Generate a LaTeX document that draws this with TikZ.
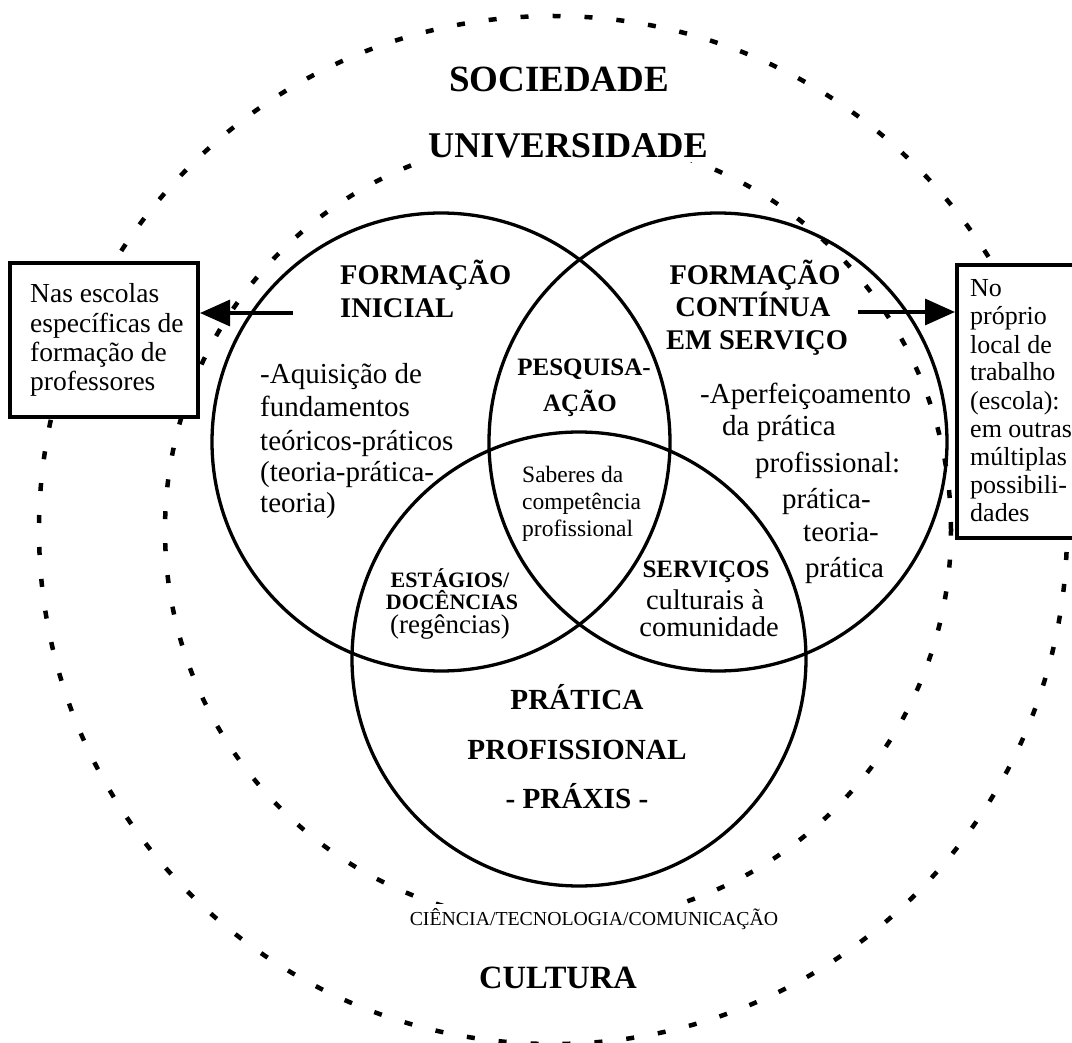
\documentclass[tikz,border=0pt]{standalone}
\usepackage{fontspec}
\setmainfont{Liberation Serif}
\usetikzlibrary{arrows.meta}
\newcommand\fSoc{\bfseries\fontsize{37}{37}\selectfont}
\newcommand\fUni{\bfseries\fontsize{36.2}{36}\selectfont}
\newcommand\fCul{\bfseries\fontsize{32.5}{32}\selectfont}
\newcommand\fHead{\bfseries\fontsize{28.5}{28}\selectfont}
\newcommand\fBody{\fontsize{29}{29}\selectfont}
\newcommand\fPesq{\bfseries\fontsize{25}{25}\selectfont}
\newcommand\fSab{\fontsize{23.5}{23}\selectfont}
\newcommand\fEst{\bfseries\fontsize{22}{22}\selectfont}
\newcommand\fReg{\fontsize{27}{27}\selectfont}
\newcommand\fServ{\bfseries\fontsize{25}{25}\selectfont}
\newcommand\fComu{\fontsize{28.5}{28}\selectfont}
\newcommand\fPrat{\bfseries\fontsize{29.2}{29}\selectfont}
\newcommand\fCien{\fontsize{19.8}{20}\selectfont}
\newcommand\fLbox{\fontsize{27.5}{27}\selectfont}
\newcommand\fRbox{\fontsize{26}{26}\selectfont}
\begin{document}
\begin{tikzpicture}[x=1pt,y=-1pt,
  ring/.style={line width=4.5pt, dash pattern=on 8pt off 24pt},
  venn/.style={line width=3.3pt},
  boxline/.style={draw, fill=white, line width=4pt, inner sep=0pt},
  arr/.style={line width=3.3pt, -{Triangle[length=30pt,width=26pt]}},
  lt/.style={inner sep=0pt, anchor=base west},
  ct/.style={inner sep=0pt, anchor=base}]
\useasboundingbox (0,0) rectangle (1072,1043);
\fill[white] (0,0) rectangle (1072,1043);
\begin{scope}
\clip (0,0) rectangle (1072,1043);
% dashed rings
\draw[ring] (553,530) circle[radius=514pt];
\draw[ring] (558,530) circle[radius=393pt];
% venn circles
\draw[venn] (441,442) circle[radius=229pt];
\draw[venn] (718,442) circle[radius=229pt];
\draw[venn] (579,659) circle[radius=227pt];
% ring labels
\node[ct, font=\fSoc] (soc) at (559,92) {SOCIEDADE};
\node[ct, font=\fUni, fill=white, inner sep=3pt] (uni) at (568,158) {UNIVERSIDADE};
\node[ct, font=\fCien, fill=white, inner sep=4pt] (cien) at (594,925) {CIÊNCIA/TECNOLOGIA/COMUNICAÇÃO};
\node[ct, font=\fCul] (cult) at (558,988) {CULTURA};
% left circle
\node[lt, font=\fHead] (fi1) at (340,285) {FORMAÇÃO};
\node[lt, font=\fHead] (fi2) at (340,318) {INICIAL};
\node[lt, font=\fBody] (aq1) at (260,383) {-Aquisição de};
\node[lt, font=\fBody] (aq2) at (260,417) {fundamentos};
\node[lt, font=\fBody] (aq3) at (260,450) {teóricos-práticos};
\node[lt, font=\fBody] (aq4) at (260,481) {(teoria-prática-};
\node[lt, font=\fBody] (aq5) at (260,512) {teoria)};
% right circle
\node[ct, font=\fHead] (fc1) at (755,285) {FORMAÇÃO};
\node[ct, font=\fHead] (fc2) at (753,317) {CONTÍNUA};
\node[ct, font=\fHead] (fc3) at (757,350) {EM SERVIÇO};
\node[lt, font=\fBody] (ap1) at (700,403) {-Aperfeiçoamento};
\node[lt, font=\fBody] (ap2) at (722,435) {da prática};
\node[lt, font=\fBody] (ap3) at (755,472) {profissional:};
\node[lt, font=\fBody] (ap4) at (782,508) {prática-};
\node[lt, font=\fBody] (ap5) at (803,541) {teoria-};
\node[lt, font=\fBody] (ap6) at (805,577) {prática};
% intersections
\node[ct, font=\fPesq] (pq1) at (584,375) {PESQUISA-};
\node[ct, font=\fPesq] (pq2) at (580,411) {AÇÃO};
\node[lt, font=\fSab] (sb1) at (522,482) {Saberes da};
\node[lt, font=\fSab] (sb2) at (522,509) {competência};
\node[lt, font=\fSab] (sb3) at (522,536) {profissional};
\node[ct, font=\fEst] (es1) at (450,587) {ESTÁGIOS/};
\node[ct, font=\fEst] (es2) at (452,609) {DOCÊNCIAS};
\node[ct, font=\fReg] (es3) at (450,633) {(regências)};
\node[ct, font=\fServ] (sv1) at (706,577) {SERVIÇOS};
\node[ct, font=\fComu] (sv2) at (705,609) {culturais à};
\node[ct, font=\fComu] (sv3) at (709,636) {comunidade};
% bottom circle
\node[ct, font=\fPrat] (pr1) at (577,709) {PRÁTICA};
\node[ct, font=\fPrat] (pr2) at (577,759) {PROFISSIONAL};
\node[ct, font=\fPrat] (pr3) at (577,808) {- PRÁXIS -};
% left box
\node[boxline, minimum width=188pt, minimum height=154pt] (lbox) at (104,340) {};
\node[lt, font=\fLbox] (lb1) at (30,303) {Nas escolas};
\node[lt, font=\fLbox] (lb2) at (30,333) {específicas de};
\node[lt, font=\fLbox] (lb3) at (30,362) {formação de};
\node[lt, font=\fLbox] (lb4) at (30,390) {professores};
\coordinate (lA) at (293,313);
\draw[arr] (lA) -- (lA -| lbox.east);
% right box
\node[boxline, minimum width=140pt, minimum height=273pt] (rbox) at (1027,401.5) {};
\node[lt, font=\fRbox] (rb1) at (970,297) {No};
\node[lt, font=\fRbox] (rb2) at (970,325) {próprio};
\node[lt, font=\fRbox] (rb3) at (970,353) {local de};
\node[lt, font=\fRbox] (rb4) at (970,381) {trabalho};
\node[lt, font=\fRbox] (rb5) at (970,409) {(escola):};
\node[lt, font=\fRbox] (rb6) at (970,437) {em outras};
\node[lt, font=\fRbox] (rb7) at (970,465) {múltiplas};
\node[lt, font=\fRbox] (rb8) at (970,493) {possibili-};
\node[lt, font=\fRbox] (rb9) at (970,521) {dades};
\coordinate (rA) at (858,312);
\draw[arr] (rA) -- (rA -| rbox.west);
\end{scope}
\end{tikzpicture}
\end{document}
